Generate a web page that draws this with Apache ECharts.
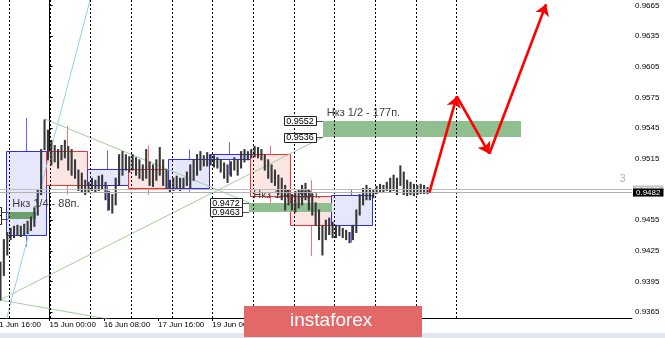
<!DOCTYPE html>
<html><head><meta charset="utf-8">
<script src="https://cdn.jsdelivr.net/npm/echarts@6/dist/echarts.min.js"></script>
<style>html,body{margin:0;padding:0;background:#fff;overflow:hidden}#c{width:665px;height:338px}</style>
</head><body><div id="c"></div><script>
// Time axis: trading hours counted from 15 Jun 00:00 (weekends skipped)
const barStartHour = -29;
const barStepHours = 2;
const barHigh = [0.9414,0.9436,0.9443,0.9447,0.9449,0.9450,0.9449,0.9451,0.9454,0.9458,
  0.9467,0.9484,0.9524,0.9553,0.9543,0.9533,0.9528,0.9524,0.9528,0.9533,
  0.9527,0.9524,0.9514,0.9504,0.9501,0.9494,0.9492,0.9496,0.9494,0.9498,
  0.9499,0.9492,0.9483,0.9480,0.9496,0.9519,0.9522,0.9519,0.9517,0.9519,
  0.9516,0.9514,0.9509,0.9524,0.9512,0.9509,0.9514,0.9526,0.9514,0.9504,
  0.9494,0.9496,0.9498,0.9496,0.9496,0.9502,0.9509,0.9514,0.9519,0.9522,
  0.9518,0.9521,0.9519,0.9518,0.9516,0.9514,0.9511,0.9509,0.9512,0.9516,
  0.9514,0.9522,0.9524,0.9522,0.9524,0.9527,0.9526,0.9524,0.9519,0.9514,
  0.9509,0.9504,0.9499,0.9496,0.9489,0.9484,0.9480,0.9483,0.9484,0.9489,
  0.9491,0.9484,0.9480,0.9472,0.9465,0.9450,0.9455,0.9457,0.9453,0.9450,
  0.9449,0.9447,0.9445,0.9443,0.9450,0.9465,0.9480,0.9486,0.9489,0.9486,
  0.9484,0.9488,0.9490,0.9489,0.9492,0.9496,0.9499,0.9496,0.9508,0.9502,
  0.9494,0.9492,0.9490,0.9489,0.9490,0.9489,0.9487];
const barLow = [0.9377,0.9401,0.9421,0.9436,0.9438,0.9440,0.9439,0.9441,0.9442,0.9445,
  0.9449,0.9460,0.9480,0.9524,0.9514,0.9509,0.9512,0.9506,0.9514,0.9516,
  0.9504,0.9499,0.9496,0.9484,0.9482,0.9480,0.9483,0.9484,0.9483,0.9484,
  0.9486,0.9475,0.9465,0.9462,0.9470,0.9489,0.9499,0.9504,0.9502,0.9504,
  0.9499,0.9496,0.9494,0.9496,0.9489,0.9488,0.9494,0.9499,0.9489,0.9486,
  0.9483,0.9484,0.9486,0.9484,0.9486,0.9489,0.9486,0.9494,0.9499,0.9504,
  0.9508,0.9508,0.9509,0.9507,0.9506,0.9502,0.9496,0.9492,0.9498,0.9504,
  0.9499,0.9506,0.9512,0.9514,0.9516,0.9517,0.9516,0.9514,0.9504,0.9496,
  0.9492,0.9489,0.9480,0.9475,0.9465,0.9470,0.9465,0.9463,0.9467,0.9470,
  0.9475,0.9465,0.9460,0.9450,0.9436,0.9421,0.9436,0.9441,0.9438,0.9438,
  0.9440,0.9438,0.9436,0.9433,0.9436,0.9443,0.9460,0.9470,0.9475,0.9475,
  0.9477,0.9481,0.9483,0.9482,0.9484,0.9483,0.9484,0.9480,0.9489,0.9480,
  0.9479,0.9480,0.9479,0.9480,0.9481,0.9481,0.9481];

const dayLineHours = [-24,0,24,48,72,96,120,144,168,192,216,240];
const timeTickHours = [-32,0,32,64,96,128,160,192];
const timeTickLabels = ['11 Jun 16:00','15 Jun 00:00','16 Jun 08:00','17 Jun 16:00','19 Jun 00:00','22 Jun 08:00','23 Jun 16:00','25 Jun 00:00'];
const priceTicks = [0.9365,0.9395,0.9425,0.9455,0.9515,0.9545,0.9575,0.9605,0.9635,0.9665];

// Daily candles drawn as boxes
const dayStart = [-26,-2,22,46,70,94,118,142,166];
const dayEnd   = [-2,22,46,70,94,118,142,166,190];
const dayOpen  = [0.9441,0.9523,0.9489,0.9505,0.9486,0.9515,0.9520,0.9479,0.9450];
const dayClose = [0.9523,0.9489,0.9505,0.9486,0.9515,0.9520,0.9479,0.9450,0.9480];
const dayHigh  = [0.9555,0.9547,0.9523,0.9528,0.9524,0.9531,0.9528,0.9494,0.9485];
const dayLow   = [0.9429,0.9480,0.9464,0.9480,0.9483,0.9499,0.9465,0.9420,0.9433];

// Target zones
const zoneNames  = ['Нкз 1/4 - 88п.','Нкз 1/4 - 90п.','Нкз 1/2 - 177п.'];
const zoneStart  = [-24.4,117.8,161.2];
const zoneEnd    = [-7.7,166.5,278.0];
const zoneTop    = [0.9463,0.9472,0.9552];
const zoneBottom = [0.9456,0.9463,0.9536];

// Trend lines
const trendFrom = [[-3,0.9554],[-29.3,0.9377],[-29.3,0.9377]];
const trendTo   = [[117.8,0.9472],[161.2,0.9536],[60,0.9351]];
const cyanFrom = [-27.1,0.9348];
const cyanTo   = [27.0,0.9690];

// Forecast arrows
const arrowPath = [[224.1,0.9482],[240.3,0.9576],[259.5,0.9520],[293.0,0.9666]];

// Current prices
const askPrice = 0.9485;
const bidPrice = 0.9482;

const FONT = 'Liberation Sans, Arial, sans-serif';
const zoneFill = ['#6d9f6d','#8fbf8f','#8fbf8f'];

const chart = echarts.init(document.getElementById('c'), null, {renderer:'canvas'});

const barData = barHigh.map((h,i)=>[barStartHour + i*barStepHours, barLow[i], h]);
const dayData = dayStart.map((s,i)=>[s, dayEnd[i], dayOpen[i], dayClose[i], dayLow[i], dayHigh[i]]);
const zoneData = zoneStart.map((s,i)=>[s, zoneEnd[i], zoneTop[i], zoneBottom[i]]);
const trendData = trendFrom.map((f,i)=>({coords:[f, trendTo[i]]}));
const arrowData = arrowPath.slice(1).map((p,i)=>({coords:[arrowPath[i], p]}));

const crisp = v => Math.round(v) + 0.5;
const priceLabel = (bg) => ({show: true, position: 'end', distance: 1, formatter: p => Number(p.value).toFixed(4),
  backgroundColor: bg, color: '#ffffff', fontSize: 8, fontFamily: FONT, lineHeight: 8, padding: [0,3,0,3]});

const option = {
  animation: false,
  backgroundColor: '#ffffff',
  grid: {left: -8, right: 33, top: 0, bottom: 20, outerBoundsMode: 'none'},
  xAxis: {
    type: 'value', min: -34, max: 343.7,
    axisLine: {show: true, lineStyle: {color: '#000', width: 1}},
    axisTick: {show: true, length: 3, customValues: timeTickHours, lineStyle: {color: '#000'}},
    axisLabel: {
      customValues: timeTickHours, align: 'left', margin: 3,
      fontSize: 8, fontFamily: FONT, color: '#000',
      formatter: v => timeTickLabels[timeTickHours.indexOf(v)] || ''
    },
    splitLine: {show: false}
  },
  yAxis: {
    type: 'value', position: 'right', min: 0.93594, max: 0.96702,
    axisLine: {show: true, lineStyle: {color: '#000', width: 1}},
    axisTick: {show: true, length: 3, customValues: priceTicks, lineStyle: {color: '#000'}},
    axisLabel: {
      customValues: priceTicks, margin: 3, fontSize: 8, fontFamily: FONT, color: '#000',
      formatter: v => v.toFixed(4)
    },
    splitLine: {show: false}
  },
  series: [
    { // daily boxes
      type: 'custom', z: 1, silent: true, clip: true, data: dayData,
      renderItem: (params, api) => {
        const s = api.value(0), e = api.value(1), o = api.value(2), c = api.value(3), l = api.value(4), h = api.value(5);
        const bull = c >= o;
        const p1 = api.coord([s, Math.max(o,c)]), p2 = api.coord([e, Math.min(o,c)]);
        const mid = (s + e) / 2;
        const w1 = api.coord([mid, h]), w2 = api.coord([mid, l]);
        const stroke = bull ? '#2c2cff' : '#ff2c2c';
        const wick = bull ? '#6262ff' : '#ff7070';
        const fill = bull ? '#e7e7fb' : '#fce6e4';
        const x1 = crisp(p1[0]), x2 = crisp(p2[0]), y1 = crisp(p1[1]), y2 = crisp(p2[1]), wx = crisp(w1[0]);
        return {type: 'group', children: [
          {type: 'line', shape: {x1: wx, y1: w1[1], x2: wx, y2: y1}, style: {stroke: wick, lineWidth: 1}},
          {type: 'line', shape: {x1: wx, y1: y2, x2: wx, y2: w2[1]}, style: {stroke: wick, lineWidth: 1}},
          {type: 'rect', shape: {x: x1, y: y1, width: x2 - x1, height: Math.max(1, y2 - y1)}, style: {fill: fill, stroke: stroke, lineWidth: 1}}
        ]};
      }
    },
    { // zones
      type: 'custom', z: 2, silent: true, clip: false, data: zoneData,
      renderItem: (params, api) => {
        const i = params.dataIndex;
        const s = api.value(0), e = api.value(1), t = api.value(2), b = api.value(3);
        const a = api.coord([s, t]), c = api.coord([e, b]);
        return {type: 'group', children: [
          {type: 'rect', shape: {x: Math.round(a[0]), y: Math.round(a[1]), width: Math.round(c[0] - a[0]), height: Math.round(c[1] - a[1])}, style: {fill: zoneFill[i]}},
          {type: 'text', x: a[0] + 4, y: a[1] - 8, style: {text: zoneNames[i], fill: '#404040', font: '11px ' + FONT, verticalAlign: 'middle', align: 'left'}}
        ]};
      }
    },
    { // trend lines
      type: 'lines', coordinateSystem: 'cartesian2d', z: 3, silent: true, clip: true,
      data: trendData, symbol: ['none','none'],
      lineStyle: {color: '#9fcf9f', width: 1, opacity: 1}
    },
    { // cyan line
      type: 'lines', coordinateSystem: 'cartesian2d', z: 3, silent: true, clip: true,
      data: [{coords: [cyanFrom, cyanTo]}], symbol: ['none','none'],
      lineStyle: {color: '#8fd3f0', width: 1, opacity: 1}
    },
    { // price bars
      type: 'custom', z: 4, silent: true, clip: true, data: barData,
      renderItem: (params, api) => {
        const t = api.value(0);
        const lo = api.coord([t, api.value(1)]), hi = api.coord([t, api.value(2)]);
        return {type: 'line', shape: {x1: lo[0], y1: lo[1] + 0.5, x2: lo[0], y2: hi[1] - 0.5}, style: {stroke: '#383838', lineWidth: 2.1}};
      },
      markLine: {
        silent: true, symbol: ['none','none'], animation: false, precision: 4,
        data: [
          {yAxis: askPrice, lineStyle: {color: '#bdbdbd', width: 1, type: 'solid'}, label: priceLabel('#c4c4c4')},
          {yAxis: bidPrice, lineStyle: {color: '#b0b0b0', width: 1, type: 'solid'}, label: priceLabel('#000000')}
        ]
      }
    },
    { // day separators
      type: 'custom', z: 3, silent: true, data: dayLineHours.map(h => [h]),
      renderItem: (params, api) => {
        const top = api.coord([api.value(0), 0.96702]), bot = api.coord([api.value(0), 0.93594]);
        const x = crisp(top[0]);
        return {type: 'line', shape: {x1: x, y1: top[1], x2: x, y2: bot[1]}, style: {stroke: '#000', lineWidth: 1, lineDash: [2,2]}};
      }
    },
    { // zone price labels
      type: 'custom', z: 5, silent: true, clip: false, data: zoneData,
      renderItem: (params, api) => {
        const s = api.value(0), t = api.value(2), b = api.value(3);
        const a = api.coord([s, t]), c = api.coord([s, b]);
        const right = Math.round(a[0]) - 7;
        const w = 32, h = 9;
        const box = (y, val) => ([
          {type: 'line', shape: {x1: right, y1: crisp(y), x2: Math.round(a[0]), y2: crisp(y)}, style: {stroke: '#555', lineWidth: 1}},
          {type: 'rect', shape: {x: right - w + 0.5, y: Math.round(y - h/2) + 0.5, width: w, height: h}, style: {fill: '#fff', stroke: '#222', lineWidth: 1}},
          {type: 'text', x: right - w/2, y: Math.round(y) + 1, style: {text: val.toFixed(4), fill: '#000', font: '9px ' + FONT, align: 'center', verticalAlign: 'middle'}}
        ]);
        return {type: 'group', children: box(a[1], t).concat(box(c[1], b))};
      }
    },
    { // forecast arrows
      type: 'lines', coordinateSystem: 'cartesian2d', z: 6, silent: true, clip: false,
      data: arrowData, symbol: ['none','arrow'], symbolSize: 11,
      lineStyle: {color: '#ff0000', width: 2.6, opacity: 1}
    }
  ],
  graphic: [
    {type: 'rect', left: 0, top: 333, shape: {width: 665, height: 5}, style: {fill: '#e1e6ec'}, z: 10},
    {type: 'text', left: 620, top: 174, style: {text: '3', fill: '#b0b0b0', font: '10px ' + FONT}, z: 10},
    {type: 'rect', left: 244, top: 306, shape: {width: 178, height: 31}, style: {fill: '#e36969'}, z: 11},
    {type: 'text', left: 290, top: 311, style: {text: 'instaforex', fill: '#ffffff', font: '19px ' + FONT}, z: 12}
  ]
};
chart.setOption(option);
</script></body></html>
